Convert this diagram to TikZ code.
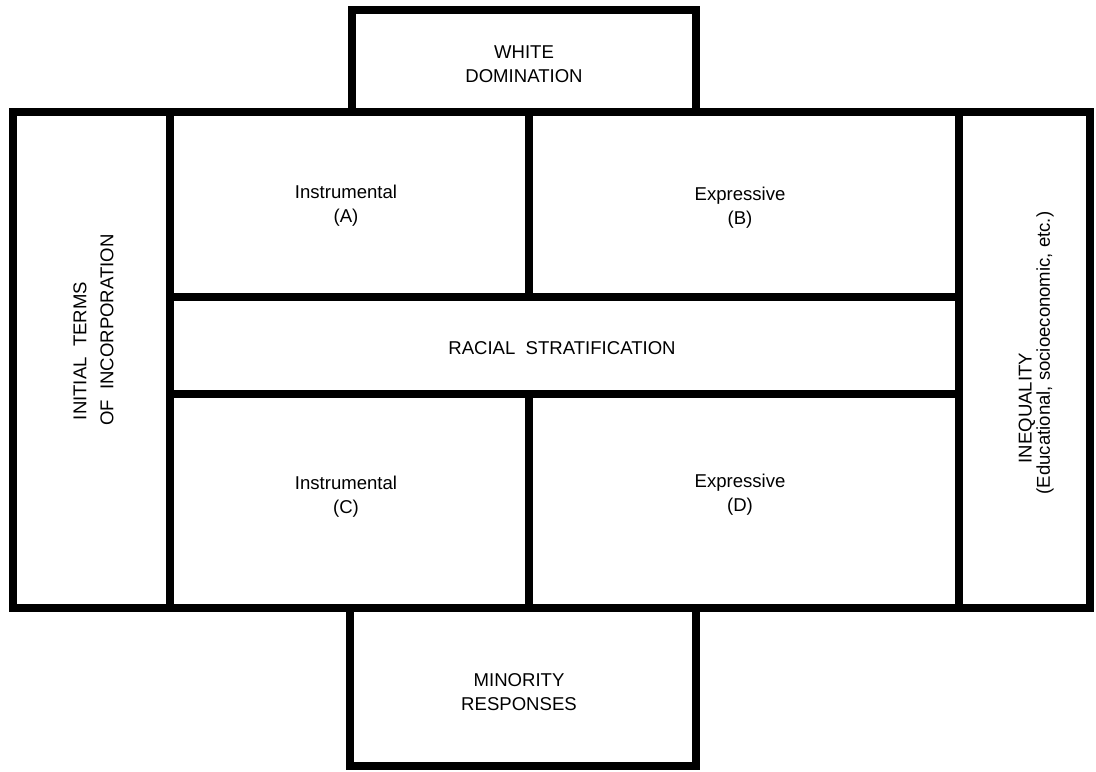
\documentclass[tikz,border=0pt]{standalone}
\usepackage{fontspec}
\setmainfont{Liberation Sans}

\tikzset{
  frame/.style={line width=5.2pt, line cap=rect},
  celltext/.style={align=center, inner sep=0pt, font=\fontsize{13.2}{17}\selectfont},
  sidetext/.style={celltext, rotate=90},
}

\begin{document}
\begin{tikzpicture}[x=0.025cm, y=-0.025cm]
\useasboundingbox (0,0) rectangle (1096,771);

% Outer frame and the two side boxes
\draw[frame] (13,112) rectangle (1090,608);
\draw[frame] (352,10) rectangle (696,112);
\draw[frame] (350,608) rectangle (696,766);

% Inner divisions
\draw[frame] (170,112) -- (170,608);
\draw[frame] (959,112) -- (959,608);
\draw[frame] (170,297) -- (959,297);
\draw[frame] (170,394) -- (959,394);
\draw[frame] (529,112) -- (529,297);
\draw[frame] (529,394) -- (529,608);

% Texts
\node[celltext] (white) at (524,64) {WHITE\\DOMINATION};
\node[celltext] (instA) at (346,206) {Instrumental\\(A)};
\node[celltext] (exprB) at (740,208) {Expressive\\(B)};
\node[celltext] (racial) at (562,348) {RACIAL\ \ STRATIFICATION};
\node[celltext] (instC) at (346,497) {Instrumental\\(C)};
\node[celltext] (exprD) at (740,495) {Expressive\\(D)};
\node[celltext] (minority) at (519,692) {MINORITY\\RESPONSES};
\node[sidetext] (initA) at (80,351) {INITIAL\ \ TERMS};
\node[sidetext] (initB) at (107,330) {OF\ \ INCORPORATION};
\node[sidetext] (ineq) at (1027,408) {INEQUALITY};
\node[sidetext] (ineqnote) at (1045,353) {(Educational,\ socioeconomic,\ etc.)};
\end{tikzpicture}
\end{document}
